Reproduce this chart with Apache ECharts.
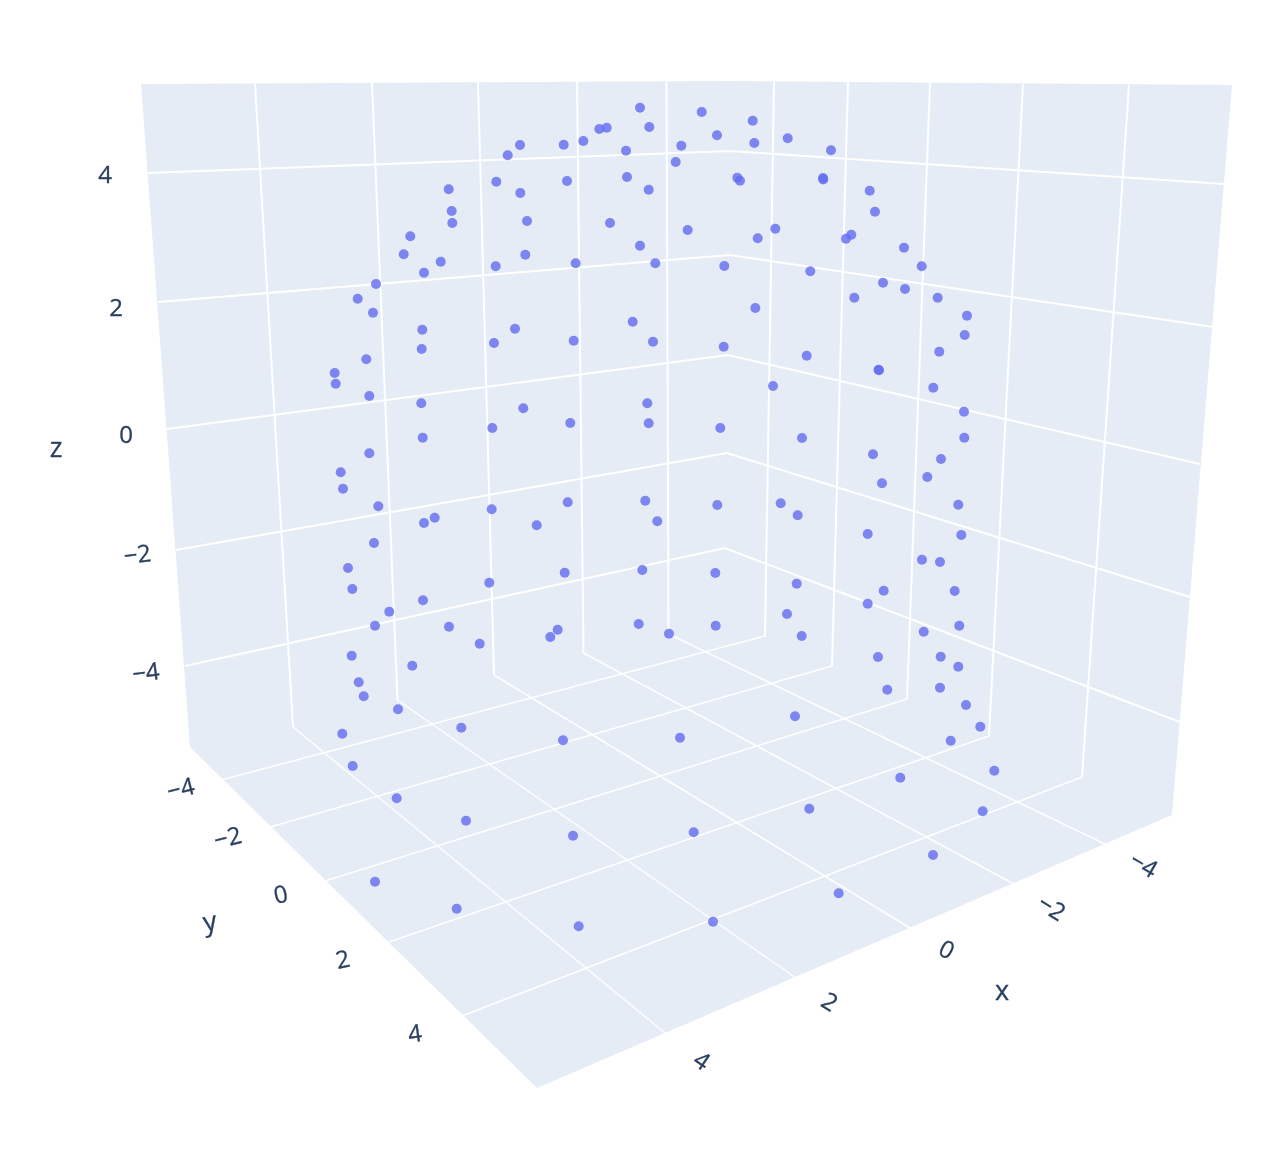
<!DOCTYPE html>
<html>
<head>
<meta charset="utf-8">
<style>html,body{margin:0;padding:0;background:#fff}#chart{width:1280px;height:1158px}</style>
<script src="https://cdn.jsdelivr.net/npm/echarts@6/dist/echarts.min.js"></script>
</head>
<body>
<div id="chart"></div>
<script>
// Projected marker positions (the view plane of the 3D scene).
var projectedX = [640,649.3,606.7,599.3,583.3,563.7,520,507.7,626,496.3,567,627,648.7,448.7,520.3,451.7,452.3,527,610,410.3,403.7,525.3,640,440.7,495.7,424,575.7,655.3,376,357.7,373,422.3,515,494,573.7,632.7,653,421.7,366.3,334.7,335.7,
701.7,752.7,717,754.3,787.7,681.3,831,675.7,737.3,740,823,823.3,869.7,875,687.7,775.3,757.7,851.3,846,904,921.7,724.3,810.3,883,905,854.3,937.7,967,755.3,964.7,723.7,806.7,939.3,878.5,879,773,933.3,
369.3,421.3,523.3,647.3,492.3,570.3,648.7,422.7,369.3,340.7,343,378.3,434.7,424,491.7,567.7,536.7,645.3,657.3,374,348,352.3,564.7,642.3,489.3,423,389.3,375,449,479.7,557.7,550.3,638.7,351.7,412.3,
964,964.3,802,720.3,873,941,927.3,882,958.3,780.7,797.7,717.3,867.7,961.3,922,940,715.3,796.7,883.7,954.7,867.7,787,959.3,923.7,715.7,801.7,669,878,940.7,958.3,
358.7,363.7,398,461.3,342.3,563,352.7,396.7,466,573,375,456.7,578.7,
887.3,940,966,980.3,795,680,950.7,994.3,900.3,809.3,982.7,693.7,933,838.7,713];
var projectedY = [107.7,127,127.7,129,141,144.7,145,155.3,150.7,181.7,181,177,189.7,189.3,193,211,223,221,223,236.3,254.3,254.7,245.7,261.7,266.3,272.7,263.3,263.3,284,298.7,312.7,329.7,328.7,343,340.7,321.7,341.7,349,359.3,373,383.7,
112,120.7,135.3,143,138.3,145.7,150.3,162,177.7,180.7,178,179.5,190.7,211.7,230,228.7,238.3,234.7,238.7,247.7,266.3,266,271.3,282.7,289,297.7,297.7,315.7,308,335,346.7,355.7,351.7,369.7,370.3,386,387.7,
396,403.3,408.3,403.3,428,423,423.3,437.7,453.3,472.3,488.7,506.3,517.7,523,509.3,502.3,525.3,500.7,521.3,543,568,589,572.7,570,582.7,600.3,611.7,625.7,626.7,643.7,629.7,637,624,655.7,665.7,
411.7,437.7,438,428,454.3,459,477,483.3,504.7,503.3,515.3,505,534,535,559.7,562,573,583.7,590.7,591,603.7,614,625.7,631.7,625.7,636,633.7,657,656.7,666.7,
682.3,696.3,709.3,727.7,733.7,740.3,766,798.3,820.7,835.7,881.7,908.7,926.3,
689.7,687.7,705,726.7,716.3,737.7,740.7,770.7,777.7,808.7,811.3,832.3,855,893.3,921.7];

// Scene outline and grid lines, in the same view-plane coordinates.
var sceneOutline = [[141,84],[727,81],[1232,85],[1172,815],[537,1088],[190,747]];
var wallLines = [
  [[148,173],[730,151],[1224,184]],
  [[158,302],[730,255],[1213,327]],
  [[167,429],[728,355],[1200,464]],
  [[176,550],[727,453],[1190,597]],
  [[185,666],[725,548],[1180,722]],
  [[255,84],[293,727]],
  [[372,83],[397.5,700]],
  [[478,82],[494,675]],
  [[577,82],[583.5,653]],
  [[666.5,81],[668.5,634]],
  [[774,81],[765,636]],
  [[848,82],[832,666]],
  [[930,83],[907,699]],
  [[1023,84],[989,736]],
  [[1129,85],[1082,777]]
];
var floorLines = [
  [[293,727],[665,1033]],
  [[397.5,700],[796,978]],
  [[494,675],[911,928.5]],
  [[583.5,653],[1014,884]],
  [[668.5,634],[1106,844.5]],
  [[765,636],[221,780]],
  [[832,666],[270,827]],
  [[907,699],[325,881]],
  [[989,736],[389,942]],
  [[1082,777],[462,1016]]
];

// Tick labels and axis titles.
var zTickLabels = ['\u22124','\u22122','0','2','4'];
var yTickLabels = ['\u22124','\u22122','0','2','4'];
var xTickLabels = ['\u22124','\u22122','0','2','4'];
var axisTitles = ['x','y','z'];

var zTickAnchors = [[146,674,7],[137.5,556,7],[126,436,0],[116,309,0],[105,176,0]];
var yTickAnchors = [[181,790,14],[228,839,14],[281,896,12],[343,961,12],[415,1035,8]];
var xTickAnchors = [[1143,866,-30],[1051,909,-32],[946,951,-28],[829,1003,-32],[701,1062,-34]];
var titleAnchors = [[1002,992,0],[210,923,10],[56,449,0]];

var textRows = [];
function addTexts(labels, anchors, size) {
  labels.forEach(function (t, i) {
    textRows.push({text: t, size: size, value: anchors[i]});
  });
}
addTexts(zTickLabels, zTickAnchors, 24);
addTexts(yTickLabels, yTickAnchors, 24);
addTexts(xTickLabels, xTickAnchors, 24);
addTexts(axisTitles, titleAnchors, 27);

var markers = projectedX.map(function (x, i) { return [x, projectedY[i]]; });

function asLines(list) {
  return list.map(function (c) { return {coords: c}; });
}

var chart = echarts.init(document.getElementById('chart'));
chart.setOption({
  animation: false,
  backgroundColor: '#ffffff',
  grid: {left: 0, right: 0, top: 0, bottom: 0},
  xAxis: {type: 'value', min: 0, max: 1280, show: false},
  yAxis: {type: 'value', min: 0, max: 1158, inverse: true, show: false},
  tooltip: {show: false},
  series: [
    {
      type: 'custom', silent: true, z: 1, clip: false,
      data: [[0, 0]],
      renderItem: function (params, api) {
        return {
          type: 'polygon',
          shape: {points: sceneOutline.map(function (p) { return api.coord(p); })},
          style: {fill: '#E5ECF6'}
        };
      }
    },
    {
      type: 'lines', coordinateSystem: 'cartesian2d', polyline: true, silent: true, z: 2,
      lineStyle: {color: '#ffffff', width: 2, opacity: 1},
      data: asLines(wallLines)
    },
    {
      type: 'lines', coordinateSystem: 'cartesian2d', polyline: true, silent: true, z: 2,
      lineStyle: {color: '#ffffff', width: 1.5, opacity: 1},
      data: asLines(floorLines)
    },
    {
      type: 'scatter', z: 3, symbol: 'circle', symbolSize: 10, silent: true,
      itemStyle: {color: '#636cf0', opacity: 0.8},
      data: markers
    },
    {
      type: 'custom', silent: true, z: 4, clip: false,
      data: textRows.map(function (r) { return r.value; }),
      renderItem: function (params, api) {
        var row = textRows[params.dataIndex];
        var at = api.coord([api.value(0), api.value(1)]);
        return {
          type: 'text',
          x: at[0], y: at[1],
          rotation: api.value(2) * Math.PI / 180,
          style: {
            text: row.text,
            fill: '#2a3f5f',
            stroke: '#2a3f5f',
            lineWidth: 0.3,
            font: row.size + 'px "Open Sans", sans-serif',
            align: 'center',
            verticalAlign: 'middle'
          }
        };
      }
    }
  ]
});
</script>
</body>
</html>
